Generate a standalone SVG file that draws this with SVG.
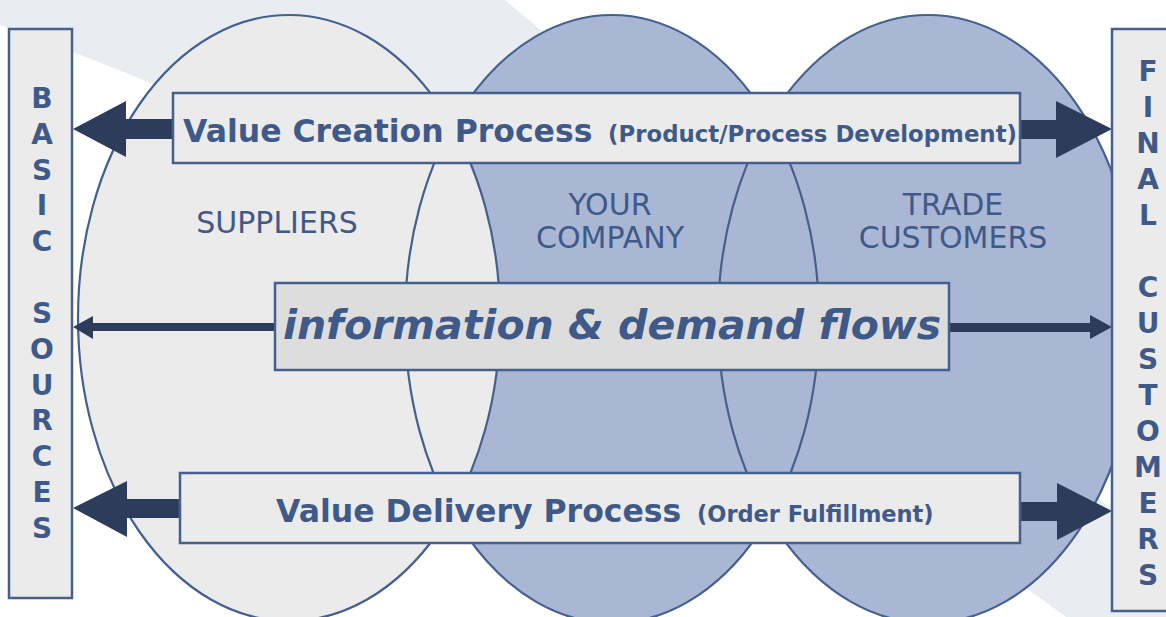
<svg xmlns="http://www.w3.org/2000/svg" width="1166" height="617" viewBox="0 0 1166 617">
<defs>
<style>
.ell{stroke:#44608e;stroke-width:2.2}
.ellf{stroke:none}
.box{fill:#ebebeb;stroke:#44608e;stroke-width:2.5}
.mbox{fill:#dddddd;stroke:#44608e;stroke-width:2.5}
.arrow{fill:#2e3c5c;stroke:none}
.big{font-family:"DejaVu Sans",Verdana,sans-serif;font-weight:bold;font-size:31.5px;fill:#3f5a88}
.small{font-family:"DejaVu Sans",Verdana,sans-serif;font-weight:bold;font-size:22.5px;fill:#3f5a88}
.flow{font-family:"DejaVu Sans",Verdana,sans-serif;font-weight:bold;font-style:italic;font-size:41px;fill:#3f5a88}
.lbl{font-family:"DejaVu Sans",Verdana,sans-serif;font-size:30px;fill:#3f5a88;text-anchor:middle}
.vert{font-family:"DejaVu Sans",Verdana,sans-serif;font-weight:bold;font-size:28px;fill:#3f5a88;text-anchor:middle}
</style>
</defs>
<rect x="0" y="0" width="1166" height="617" fill="#ffffff"/>
<path d="M0,0 L505,0 L1166,555 L1166,617 L1066,617 Q495,200 0,25 Z" fill="#e9ecf0"/>
<g id="ellipses">
<g id="trade-customers-fill"><ellipse class="ellf" cx="928" cy="319" rx="210" ry="304" fill="#a9b7d5"/></g>
<g id="your-company-fill"><ellipse class="ellf" cx="612" cy="319" rx="207" ry="304" fill="#a9b7d5"/></g>
<g id="suppliers-fill"><ellipse class="ellf" cx="289" cy="318" rx="211" ry="303" fill="#ebebeb"/></g>
<ellipse class="ell" cx="928" cy="319" rx="210" ry="304" fill="none"/>
<ellipse class="ell" cx="612" cy="319" rx="207" ry="304" fill="none"/>
<ellipse class="ell" cx="289" cy="318" rx="211" ry="303" fill="none"/>
</g>
<g id="suppliers"><text class="lbl" x="277" y="233">SUPPLIERS</text></g>
<g id="your-company"><text class="lbl" x="610" y="215">YOUR</text><text class="lbl" x="610" y="248">COMPANY</text></g>
<g id="trade-customers"><text class="lbl" x="953" y="215">TRADE</text><text class="lbl" x="953" y="248">CUSTOMERS</text></g>
<g id="connectors">
<polygon class="arrow" points="174,119 126,119 126,101 73,129 126,157 126,139 174,139"/>
<polygon class="arrow" points="1019,120 1056,120 1056,101 1112,129 1056,158 1056,139 1019,139"/>
<polygon class="arrow" points="276,323 93,323 93,316 73,327 93,339 93,331 276,331"/>
<polygon class="arrow" points="948,323 1090,323 1090,315 1112,327 1090,339 1090,332 948,332"/>
<polygon class="arrow" points="181,499 127,499 127,481 73,508 127,537 127,518 181,518"/>
<polygon class="arrow" points="1019,502 1057,502 1057,483 1112,511 1057,540 1057,521 1019,521"/>
</g>
<g id="basic-sources">
<rect class="box" x="9" y="29" width="63" height="569"/>
<text class="vert" x="42" y="108">B</text>
<text class="vert" x="42" y="144">A</text>
<text class="vert" x="42" y="180">S</text>
<text class="vert" x="42" y="215">I</text>
<text class="vert" x="42" y="251">C</text>
<text class="vert" x="42" y="323">S</text>
<text class="vert" x="42" y="359">O</text>
<text class="vert" x="42" y="395">U</text>
<text class="vert" x="42" y="430">R</text>
<text class="vert" x="42" y="466">C</text>
<text class="vert" x="42" y="502">E</text>
<text class="vert" x="42" y="538">S</text>
</g>
<g id="final-customers">
<rect class="box" x="1112" y="29" width="70" height="582"/>
<text class="vert" x="1148" y="81">F</text>
<text class="vert" x="1148" y="117">I</text>
<text class="vert" x="1148" y="153">N</text>
<text class="vert" x="1148" y="189">A</text>
<text class="vert" x="1148" y="225">L</text>
<text class="vert" x="1148" y="297">C</text>
<text class="vert" x="1148" y="333">U</text>
<text class="vert" x="1148" y="369">S</text>
<text class="vert" x="1148" y="405">T</text>
<text class="vert" x="1148" y="441">O</text>
<text class="vert" x="1148" y="477">M</text>
<text class="vert" x="1148" y="513">E</text>
<text class="vert" x="1148" y="549">R</text>
<text class="vert" x="1148" y="585">S</text>
</g>
<g id="value-creation">
<rect class="box" x="173" y="93" width="847" height="70"/>
<text class="big" x="183" y="142">Value Creation Process</text>
<text class="small" x="608" y="142" textLength="409" lengthAdjust="spacingAndGlyphs">(Product/Process Development)</text>
</g>
<g id="information-flows">
<rect class="mbox" x="275" y="283" width="674" height="87"/>
<text class="flow" x="612" y="339" text-anchor="middle">information &amp; demand flows</text>
</g>
<g id="value-delivery">
<rect class="box" x="180" y="473" width="840" height="70"/>
<text class="big" x="276" y="522">Value Delivery Process</text>
<text class="small" x="697" y="522">(Order Fulfillment)</text>
</g>
</svg>
